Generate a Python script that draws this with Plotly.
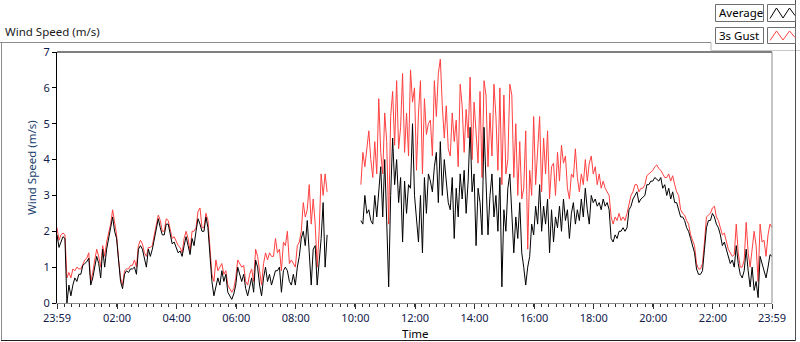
import plotly.graph_objects as go
import pandas as pd

# ---------------- data (4-minute samples from 23:59 to 23:59 next day) ----------------
start_time = "2024-01-01 23:59"
step_minutes = 4

average = [
    1.9, 1.55, 1.7, 1.85, 1.8, 0.0, 0.5, 0.2, 0.5, 0.7,
    0.6, 0.8, 0.8, 1.05, 1.1, 1.15, 1.25, 0.5, 0.7, 1.0,
    1.3, 1.1, 0.7, 1.5, 1.0, 1.5, 1.85, 2.1, 2.4, 2.0,
    1.8, 1.1, 0.6, 0.4, 0.8, 0.9, 0.85, 0.95, 0.95, 1.0,
    0.8, 1.5, 1.6, 1.5, 1.2, 1.0, 1.5, 1.3, 1.5, 1.8,
    2.1, 2.35, 2.1, 1.9, 1.9, 2.2, 2.2, 1.95, 1.65, 1.7,
    1.55, 1.4, 1.45, 1.3, 1.6, 1.85, 1.6, 1.35, 1.8, 1.6,
    2.0, 2.35, 2.2, 2.0, 2.0, 2.4, 2.1, 1.2, 0.6, 0.2,
    0.5, 0.7, 0.5, 0.9, 0.6, 0.8, 0.3, 0.2, 0.1, 0.25,
    0.5, 1.0, 0.8, 0.6, 0.8, 0.4, 0.2, 0.5, 0.7, 0.3,
    1.2, 1.0, 0.5, 0.2, 0.7, 1.0, 0.6, 0.8, 0.5, 0.7,
    0.9, 0.9, 1.0, 0.3, 0.9, 1.0, 0.9, 0.6, 0.5, 0.8,
    0.5, 1.0, 1.3, 1.8, 2.0, 1.6, 2.3, 1.4, 0.5, 1.5,
    1.6, 0.5, 1.2, 1.8, 2.8, 1.0, 1.9,
    None, None, None, None, None, None, None, None,
    None, None, None, None, None, None, None, None,
    2.3, 2.2, 3.0, 2.5, 2.6, 2.3, 2.2,
    3.0, 2.4, 3.2, 3.8, 2.4, 4.0, 2.3, 0.45, 3.0, 4.6,
    3.3, 4.0, 2.8, 3.5, 1.7, 3.4, 2.5, 3.3, 3.2, 5.0,
    3.0, 2.4, 1.7, 3.0, 1.4, 3.5, 2.5, 3.6, 3.4, 3.1,
    3.8, 4.2, 2.8, 4.5, 3.0, 4.0, 3.3, 2.8, 2.6, 3.5,
    1.8, 3.2, 2.4, 3.6, 2.9, 3.7, 2.5, 3.4, 4.9, 3.1,
    3.6, 1.6, 3.2, 2.8, 1.9, 4.9, 3.4, 1.9, 3.0, 3.6,
    2.4, 3.0, 2.0, 3.5, 0.45, 2.6, 2.0, 3.2, 3.6, 2.3,
    1.4, 2.4, 1.8, 2.8, 1.4, 1.0, 0.5, 1.0, 1.3, 2.2,
    1.9, 2.7, 2.2, 3.3, 2.0, 2.7, 2.2, 2.9, 1.4, 2.6,
    1.7, 2.4, 2.1, 2.7, 2.0, 2.9, 2.3, 2.6, 1.8, 2.5,
    2.8, 2.2, 2.6, 2.3, 2.9, 2.4, 3.2, 2.6, 2.2, 3.0,
    2.8, 2.9, 2.7, 2.8, 2.6, 2.9, 2.7, 2.8, 2.6, 1.8,
    1.7, 1.9, 1.8, 2.0, 2.0, 2.1, 2.0, 2.1, 2.6, 2.7,
    2.9, 3.0, 3.1, 2.8, 2.9, 2.95, 3.0, 3.3, 3.3, 3.4,
    3.4, 3.5, 3.45, 3.4, 3.5, 3.2, 3.3, 3.0, 3.2, 2.9,
    3.1, 2.8, 2.8, 2.6, 2.4, 2.4, 2.3, 2.1, 2.0, 1.8,
    1.6, 1.4, 0.95, 0.8, 0.8, 0.9, 1.5, 2.1, 2.3, 2.3,
    2.5, 2.4, 2.2, 2.1, 1.9, 1.6, 1.7, 1.5, 1.3, 1.1,
    1.2, 1.0, 1.6, 1.1, 0.8, 0.7, 0.9, 1.5, 0.9, 0.45,
    1.0, 0.35, 0.6, 0.15, 1.3, 1.1, 0.9, 0.7, 1.0, 1.35, 1.3,
]

gust_3s = [
    2.1, 1.75, 1.9, 1.95, 1.9, 0.7, 0.85, 0.7, 0.95, 0.9,
    1.0, 0.95, 0.95, 1.1, 1.2, 1.25, 1.4, 0.6, 0.85, 1.2,
    1.5, 1.3, 1.0, 1.6, 1.3, 1.7, 1.95, 2.2, 2.6, 2.2,
    1.9, 1.2, 0.7, 0.5, 0.9, 0.95, 0.95, 1.05, 1.05, 1.2,
    1.0, 1.6, 1.75, 1.65, 1.4, 1.3, 1.55, 1.55, 1.6, 1.9,
    2.2, 2.45, 2.3, 2.0, 2.0, 2.35, 2.3, 2.05, 1.8, 1.85,
    1.7, 1.6, 1.55, 1.4, 1.8, 2.0, 1.8, 1.45, 2.0, 2.0,
    2.1, 2.55, 2.65, 2.1, 2.1, 2.5, 2.3, 1.4, 0.8, 0.6,
    1.2, 0.9, 1.0, 1.1, 0.8, 0.9, 0.5, 0.4, 0.3, 0.4,
    0.7, 1.2, 1.1, 1.0, 1.05, 0.6, 0.5, 0.8, 0.95, 0.6,
    1.5, 1.3, 0.9, 0.5, 1.1, 1.4, 1.2, 1.4, 1.3, 1.3,
    1.8, 1.4, 1.5, 0.9, 1.7, 1.6, 2.0, 1.1, 1.2, 1.1,
    1.0, 1.6, 1.7, 2.0, 2.8, 2.4, 2.6, 3.3, 2.2, 2.9,
    2.2, 1.0, 2.0, 3.6, 3.0, 3.6, 3.1,
    None, None, None, None, None, None, None, None,
    None, None, None, None, None, None, None, None,
    3.3, 4.2, 3.8, 4.3, 4.8, 4.0, 3.5,
    4.5, 3.6, 5.7, 4.2, 3.6, 5.3, 4.5, 2.2, 5.2, 5.9,
    4.4, 6.2, 4.3, 4.9, 6.4, 4.2, 5.3, 4.1, 6.5, 5.6,
    6.0, 3.7, 5.3, 6.2, 3.6, 5.7, 4.7, 5.0, 5.1, 4.1,
    6.2, 5.2, 6.4, 6.8, 5.5, 4.6, 5.5, 4.3, 4.1, 5.3,
    4.5, 5.1, 3.8, 6.1, 5.5, 4.2, 5.4, 4.6, 6.3, 4.0,
    5.6, 4.6, 3.9, 5.9, 3.5, 6.2, 5.8, 3.8, 5.3, 4.1,
    6.1, 5.2, 3.7, 6.0, 3.3, 5.8, 3.6, 4.0, 6.1, 5.8,
    3.5, 5.0, 3.0, 4.5, 2.9, 3.2, 4.8, 1.5, 3.7, 3.0,
    5.2, 3.3, 4.2, 5.2, 3.1, 4.6, 3.6, 4.8, 2.9, 3.8,
    3.9, 3.0, 4.2, 3.4, 4.4, 3.9, 4.1, 3.2, 2.9, 3.6,
    3.5, 4.3, 3.5, 3.1, 3.6, 3.3, 4.0, 3.4, 3.9, 4.1,
    3.6, 3.8, 3.3, 3.6, 3.2, 3.4, 3.2, 3.1, 3.0, 2.4,
    2.2, 2.4, 2.3, 2.5, 2.3, 2.4, 2.3, 2.5, 2.8, 3.0,
    3.1, 3.3, 3.3, 3.1, 3.2, 3.2, 3.3, 3.55, 3.6, 3.65,
    3.7, 3.8, 3.85, 3.75, 3.7, 3.6, 3.5, 3.5, 3.6, 3.4,
    3.55, 3.3, 3.1, 3.0, 2.6, 2.5, 2.45, 2.3, 2.2, 1.9,
    1.75, 1.6, 1.1, 0.95, 0.95, 1.1, 1.7, 2.4, 2.45, 2.5,
    2.65, 2.7, 2.4, 2.3, 2.1, 1.9, 1.95, 1.75, 1.5, 1.4,
    1.3, 1.35, 2.2, 1.4, 1.0, 1.0, 1.2, 2.25, 1.4, 1.0,
    1.5, 2.0, 1.6, 0.6, 2.2, 1.7, 1.75, 1.3, 1.9, 2.2, 2.1,
]

tick_hours = [0, 2, 4, 6, 8, 10, 12, 14, 16, 18, 20, 22, 24]
tick_labels = ["23:59", "02:00", "04:00", "06:00", "08:00", "10:00", "12:00",
               "14:00", "16:00", "18:00", "20:00", "22:00", "23:59"]
y_ticks = [0, 1, 2, 3, 4, 5, 6, 7]

series_names = ["Average", "3s Gust"]
series_colors = ["#000000", "#ff4040"]

# ---------------- build ----------------
t0 = pd.Timestamp(start_time)
day_start = t0.normalize() + pd.Timedelta(days=1)   # midnight after start
t_end = t0 + pd.Timedelta(days=1)

def times(n):
    return [t0 + pd.Timedelta(minutes=step_minutes * i) for i in range(n)]

tickvals = []
for h in tick_hours:
    if h == 0:
        tickvals.append(t0)
    elif h == 24:
        tickvals.append(t_end)
    else:
        tickvals.append(day_start + pd.Timedelta(hours=h))

W, H = 800, 342
L, R, T, B = 57, 772, 52, 303
FONT = "Noto Sans"

fig = go.Figure()
fig.add_trace(go.Scatter(x=times(len(gust_3s)), y=gust_3s, mode="lines",
                         line=dict(color=series_colors[1], width=1),
                         name=series_names[1], showlegend=False))
fig.add_trace(go.Scatter(x=times(len(average)), y=average, mode="lines",
                         line=dict(color=series_colors[0], width=1),
                         name=series_names[0], showlegend=False))

def px(x):
    return (x - L) / (R - L)

def py(y):
    return (B - y) / (B - T)

shapes = []
def line(x0, y0, x1, y1, color, width=1):
    shapes.append(dict(type="line", xref="paper", yref="paper",
                       x0=px(x0), y0=py(y0), x1=px(x1), y1=py(y1),
                       line=dict(color=color, width=width), layer="above"))

def rect(x0, y0, x1, y1, color):
    shapes.append(dict(type="rect", xref="paper", yref="paper",
                       x0=px(x0), y0=py(y0), x1=px(x1), y1=py(y1),
                       line=dict(color=color, width=1), fillcolor="white", layer="above"))

# outer frame
line(0, 42.5, 711, 42.5, "#8c8c8c")
line(711, 42.5, 711, 50.5, "#b4b4b4")
line(711, 50.5, 800, 50.5, "#c8c8c8")
line(1.5, 42.5, 1.5, 340.5, "#8c8c8c")
line(1, 340.5, 796, 340.5, "#1e1e1e")
line(795.5, 0, 795.5, 341, "#505050")
# plot frame top / right
line(L, T, R, T, "#000000")
line(R, T, R, B, "#8c8c8c")

# legend boxes
annotations = []
rows = [(4.5, 21.5), (27.5, 43.5)]
for (ya, yb), name, col in zip(rows, series_names, series_colors):
    rect(715.5, ya, 763.5, yb, "#6e6e6e")
    rect(767.5, ya, 795.5, yb, "#6e6e6e")
    zx = [770, 776.5, 783, 789.5, 795]
    zy = [yb - 3, ya + 3.5, yb - 3.5, ya + 3.5, yb - 6]
    path = "M " + " L ".join(f"{px(a)},{py(b)}" for a, b in zip(zx, zy))
    shapes.append(dict(type="path", xref="paper", yref="paper", path=path,
                       line=dict(color=col, width=1), layer="above"))
    annotations.append(dict(xref="paper", yref="paper", x=px(716.5), y=py((ya + yb) / 2),
                            text=name, showarrow=False, xanchor="left", yanchor="middle",
                            font=dict(family=FONT, size=11.5, color="#000000")))

# chart title
annotations.append(dict(xref="paper", yref="paper", x=px(3), y=py(31),
                        text="Wind Speed (m/s)", showarrow=False,
                        xanchor="left", yanchor="middle",
                        font=dict(family=FONT, size=11.5, color="#1a1a1a")))
# axis titles
annotations.append(dict(xref="paper", yref="paper", x=px(31), y=py(168),
                        text="Wind Speed (m/s)", showarrow=False, textangle=-90,
                        xanchor="center", yanchor="middle",
                        font=dict(family=FONT, size=11.5, color="#20406e")))
annotations.append(dict(xref="paper", yref="paper", x=px(415), y=py(333),
                        text="Time", showarrow=False,
                        xanchor="center", yanchor="middle",
                        font=dict(family=FONT, size=11.5, color="#000000")))

fig.update_layout(
    width=W, height=H, autosize=False,
    margin=dict(l=L, r=W - R, t=T, b=H - B, pad=0),
    paper_bgcolor="white", plot_bgcolor="white",
    shapes=shapes, annotations=annotations,
    showlegend=False,
    xaxis=dict(
        type="date", range=[t0, t_end], automargin=False,
        tickmode="array", tickvals=tickvals, ticktext=tick_labels,
        ticks="outside", ticklen=5, tickwidth=1, tickcolor="#303030",
        showline=True, linecolor="#8c8c8c", linewidth=1,
        showgrid=False, zeroline=False,
        tickfont=dict(family=FONT, size=11, color="#10204a"),
        minor=dict(tickmode="linear", tick0=t0, dtick=15 * 60 * 1000,
                   ticks="outside", ticklen=3, tickcolor="#303030", showgrid=False),
    ),
    yaxis=dict(
        range=[0, 7], tickmode="array", tickvals=y_ticks, automargin=False,
        ticks="outside", ticklen=4, tickwidth=1, tickcolor="#000000",
        showline=True, linecolor="#000000", linewidth=1,
        showgrid=False, zeroline=False,
        tickfont=dict(family=FONT, size=11, color="#10204a"),
    ),
)

fig.write_html("out.html", config={"displayModeBar": False},
               post_script="document.body.style.margin='0';document.body.style.overflow='hidden';")
